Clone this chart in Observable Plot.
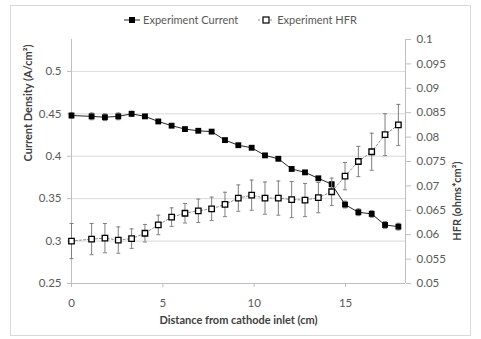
<!DOCTYPE html>
<html>
<head>
<meta charset="utf-8">
<script src="https://cdn.jsdelivr.net/npm/d3@7"></script>
<script src="https://cdn.jsdelivr.net/npm/@observablehq/plot@0.6"></script>
<style>
  html, body { margin: 0; padding: 0; background: #fff; }
  #chart { position: relative; width: 481px; height: 339px; font-family: Lato, "Open Sans", sans-serif; }
  #border { position: absolute; left: 10px; top: 5px; width: 461px; height: 331px; border: 1px solid #d9d9d9; box-sizing: border-box; }
  #legend { position: absolute; top: 13px; left: 0; width: 481px; display: flex; justify-content: center; gap: 20px; font-size: 11px; color: #595959; line-height: 14px; }
  #legend .item { display: flex; align-items: center; gap: 3px; }
  #plot { position: absolute; left: 0; top: 0; }
</style>
</head>
<body>
<div id="chart">
  <div id="border"></div>
  <div id="plot"></div>
  <div id="legend"></div>
</div>
<script>
// Distance along the channel from the cathode inlet (cm)
const distance = [0, 1.1, 1.83, 2.56, 3.29, 4.02, 4.75, 5.48, 6.21, 6.94, 7.67, 8.4, 9.13,
  9.86, 10.59, 11.32, 12.05, 12.78, 13.51, 14.24, 14.97, 15.7, 16.43, 17.16, 17.89];

// Measured current density (A/cm²) and its spread
const current = [0.448, 0.447, 0.446, 0.447, 0.450, 0.447, 0.441, 0.436, 0.432, 0.430, 0.429,
  0.419, 0.413, 0.410, 0.401, 0.397, 0.385, 0.381, 0.374, 0.367, 0.343, 0.334, 0.332, 0.319, 0.317];
const currentErr = [0.003, 0.004, 0.004, 0.004, 0.003, 0.002, 0.002, 0.002, 0.002, 0.002, 0.002,
  0.002, 0.002, 0.002, 0.002, 0.002, 0.002, 0.002, 0.002, 0.003, 0.004, 0.004, 0.004, 0.004, 0.004];

// Measured high-frequency resistance (ohms*cm²) and its spread
const hfr = [0.0587, 0.0591, 0.0593, 0.0589, 0.0592, 0.0603, 0.0620, 0.0636, 0.0644, 0.0649, 0.0653,
  0.0662, 0.0675, 0.0681, 0.0675, 0.0675, 0.0672, 0.0671, 0.0676, 0.0688, 0.0720, 0.0750, 0.0770, 0.0805, 0.0825];
const hfrErr = [0.0036, 0.0032, 0.0030, 0.0027, 0.0020, 0.0018, 0.0020, 0.0019, 0.0020, 0.0024, 0.0024,
  0.0025, 0.0027, 0.0031, 0.0033, 0.0035, 0.0037, 0.0034, 0.0031, 0.0028, 0.0028, 0.0031, 0.0038, 0.0043, 0.0042];

// Axis ticks
const xTicks = [0, 5, 10, 15];
const currentTicks = [0.25, 0.3, 0.35, 0.4, 0.45, 0.5];
const hfrTicks = [0.05, 0.055, 0.06, 0.065, 0.07, 0.075, 0.08, 0.085, 0.09, 0.095, 0.1];

// Axis extents
const xMax = 18.28;
const currentMin = 0.25, currentMax = 0.5376;
const hfrMin = 0.05, hfrMax = 0.1;

// HFR lives on the secondary (right) axis: map it into the primary scale
const ratio = (currentMax - currentMin) / (hfrMax - hfrMin);
const toLeft = h => currentMin + (h - hfrMin) * ratio;
const fromLeft = v => hfrMin + (v - currentMin) / ratio;
const fmt = v => String(+v.toFixed(4));

const rows = distance.map((x, i) => ({
  x,
  cur: current[i], curLo: current[i] - currentErr[i], curHi: current[i] + currentErr[i],
  hfr: toLeft(hfr[i]), hfrLo: toLeft(hfr[i] - hfrErr[i]), hfrHi: toLeft(hfr[i] + hfrErr[i])
}));

// Horizontal cap glyph for error bars
const cap = {
  draw(context, size) {
    const w = Math.sqrt(size / Math.PI);
    context.moveTo(-w, 0);
    context.lineTo(w, 0);
  }
};

const axisGray = "#bfbfbf";
const gridGray = "#d9d9d9";
const textGray = "#595959";
const titleColor = "#404040";

const chart = Plot.plot({
  width: 481,
  height: 339,
  marginLeft: 71,
  marginRight: 76,
  marginTop: 39,
  marginBottom: 56,
  style: { fontFamily: "Lato, 'Open Sans', sans-serif", fontSize: "11.5px", background: "transparent", color: textGray },
  x: { domain: [0, xMax] },
  y: { domain: [currentMin, currentMax] },
  marks: [
    Plot.gridY({ ticks: currentTicks.slice(1), stroke: gridGray, strokeOpacity: 1 }),
    Plot.ruleY([currentMin], { stroke: axisGray }),
    Plot.ruleX([0], { stroke: axisGray }),
    Plot.ruleX([xMax], { stroke: axisGray }),
    Plot.axisX({ ticks: xTicks, tickSize: 4, tickPadding: 11, stroke: axisGray, fill: textGray, tickFormat: d => String(d), label: null }),
    Plot.axisY({ anchor: "left", ticks: currentTicks, tickSize: 4, tickPadding: 6, stroke: axisGray, fill: textGray, tickFormat: fmt, label: null }),
    Plot.axisY({ anchor: "right", ticks: hfrTicks.map(toLeft), tickSize: 5, tickPadding: 6, stroke: axisGray, fill: textGray, tickFormat: d => fmt(fromLeft(d)), label: null }),

    // Experiment Current
    Plot.ruleX(rows, { x: "x", y1: "curLo", y2: "curHi", stroke: "#7f7f7f", strokeWidth: 1 }),
    Plot.dot(rows, { x: "x", y: "curLo", symbol: cap, r: 2, stroke: "#7f7f7f", strokeWidth: 1 }),
    Plot.dot(rows, { x: "x", y: "curHi", symbol: cap, r: 2, stroke: "#7f7f7f", strokeWidth: 1 }),
    Plot.line(rows, { x: "x", y: "cur", stroke: "#262626", strokeWidth: 1 }),
    Plot.dot(rows, { x: "x", y: "cur", symbol: "square", r: 3.3, fill: "#000", stroke: "none" }),

    // Experiment HFR
    Plot.ruleX(rows, { x: "x", y1: "hfrLo", y2: "hfrHi", stroke: "#7f7f7f", strokeWidth: 1 }),
    Plot.dot(rows, { x: "x", y: "hfrLo", symbol: cap, r: 2, stroke: "#7f7f7f", strokeWidth: 1 }),
    Plot.dot(rows, { x: "x", y: "hfrHi", symbol: cap, r: 2, stroke: "#7f7f7f", strokeWidth: 1 }),
    Plot.line(rows, { x: "x", y: "hfr", stroke: "#8c8c8c", strokeWidth: 1, strokeDasharray: "2,2" }),
    Plot.dot(rows, { x: "x", y: "hfr", symbol: "square", r: 3.1, fill: "#fff", stroke: "#000", strokeWidth: 1.3 }),

    // Axis titles
    Plot.text(["Current Density (A/cm²)"], { text: d => d, frameAnchor: "left", dx: -43, rotate: -90, fontWeight: "bold", fill: titleColor, fontSize: 11 }),
    Plot.text(["HFR (ohms*cm²)"], { text: d => d, frameAnchor: "right", dx: 52, rotate: -90, fontWeight: "bold", fill: titleColor, fontSize: 11 }),
    Plot.text(["Distance from cathode inlet (cm)"], { text: d => d, frameAnchor: "bottom", dy: 40, fontWeight: "bold", fill: titleColor, fontSize: 11 })
  ]
});
document.getElementById("plot").appendChild(chart);

// Legend
const legendItems = [
  { label: "Experiment Current", fill: "#000", dash: null, lineColor: "#262626" },
  { label: "Experiment HFR", fill: "#fff", dash: "2,2", lineColor: "#8c8c8c" }
];
const legend = d3.select("#legend");
for (const it of legendItems) {
  const item = legend.append("div").attr("class", "item");
  const sw = item.append("svg").attr("width", 16).attr("height", 10);
  sw.append("line").attr("x1", 0).attr("x2", 16).attr("y1", 5).attr("y2", 5)
    .attr("stroke", it.lineColor).attr("stroke-dasharray", it.dash);
  sw.append("rect").attr("x", 5).attr("y", 2).attr("width", 6).attr("height", 6)
    .attr("fill", it.fill).attr("stroke", "#000").attr("stroke-width", it.fill === "#000" ? 0 : 1.2);
  item.append("span").text(it.label);
}
</script>
</body>
</html>
